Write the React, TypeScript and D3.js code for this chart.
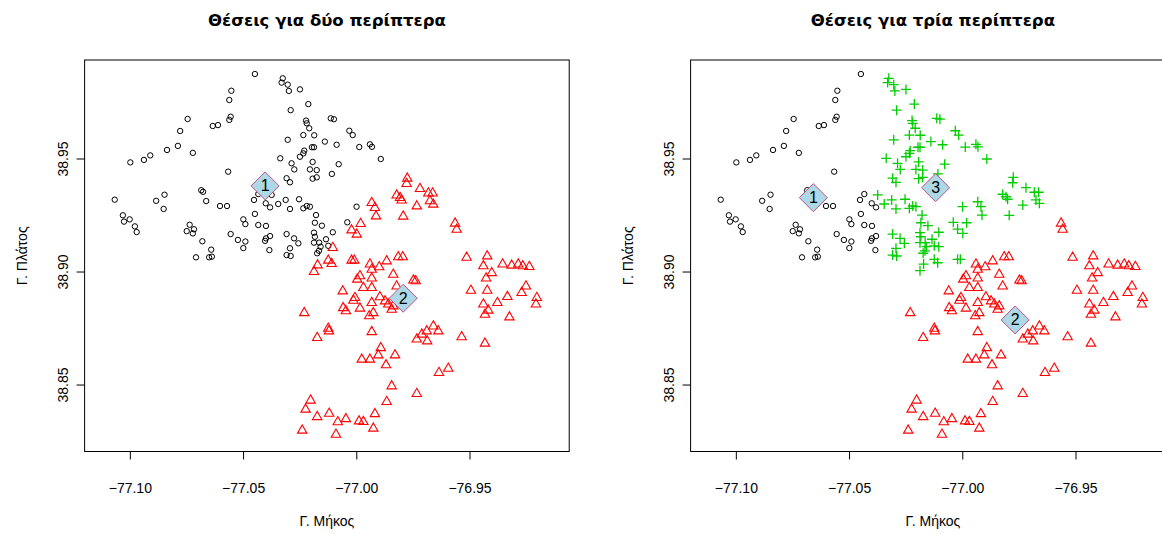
import React from "react";
import * as d3 from "d3";

// Kiosk stand locations (longitude, latitude), grouped by the cluster they fall in
// for the two-kiosk and three-kiosk k-means solutions.

// two-kiosk cluster 1, three-kiosk cluster 1
const westStands: [number, number][] = [
  [-77.0554, 38.9802], [-77.0563, 38.9761], [-77.0557, 38.9687], [-77.0563, 38.9673],
  [-77.0636, 38.9646], [-77.0613, 38.965], [-77.0747, 38.9677], [-77.078, 38.9624],
  [-77.079, 38.9558], [-77.0838, 38.954], [-77.0724, 38.9527], [-77.0912, 38.9516],
  [-77.094, 38.9496], [-77.1, 38.9485], [-77.0568, 38.9444], [-77.0687, 38.9362],
  [-77.0679, 38.9355], [-77.0665, 38.9314], [-77.0604, 38.9292], [-77.0573, 38.9292],
  [-77.1069, 38.932], [-77.0849, 38.9342], [-77.0886, 38.9315], [-77.0853, 38.9279],
  [-77.1033, 38.9251], [-77.1003, 38.9233], [-77.1028, 38.9223], [-77.098, 38.9202],
  [-77.0972, 38.9177], [-77.0738, 38.9209], [-77.0719, 38.9189], [-77.0751, 38.9181],
  [-77.0724, 38.9171], [-77.0682, 38.9136], [-77.0643, 38.9099], [-77.071, 38.9065],
  [-77.0652, 38.9065], [-77.064, 38.9068], [-77.0557, 38.9168], [-77.0525, 38.9142],
  [-77.0501, 38.9233], [-77.0492, 38.9212], [-77.0501, 38.9106], [-77.0492, 38.9135],
  [-77.045, 38.9876], [-77.0435, 38.9345], [-77.0454, 38.9319], [-77.0402, 38.9304],
  [-77.0383, 38.9286], [-77.045, 38.9257], [-77.0435, 38.9208], [-77.0401, 38.9204],
  [-77.0383, 38.9159], [-77.0401, 38.9149], [-77.0405, 38.9138], [-77.0386, 38.9097],
];

// two-kiosk cluster 1, three-kiosk cluster 3
const northStands: [number, number][] = [
  [-77.0327, 38.9857], [-77.0332, 38.9838], [-77.0305, 38.9829], [-77.03, 38.9801],
  [-77.0251, 38.9808], [-77.0214, 38.9743], [-77.0292, 38.9716], [-77.0224, 38.967],
  [-77.0221, 38.9658], [-77.021, 38.9636], [-77.0115, 38.968], [-77.0101, 38.9676],
  [-77.0033, 38.9625], [-77.0018, 38.9606], [-77.0236, 38.9606], [-77.0188, 38.9605],
  [-77.0305, 38.9585], [-77.0141, 38.9577], [-77.0089, 38.9563], [-77.0198, 38.9552],
  [-77.0189, 38.9552], [-76.9989, 38.9553], [-76.9942, 38.9565], [-76.9933, 38.9554],
  [-76.9894, 38.95], [-77.0232, 38.9537], [-77.0236, 38.9525], [-77.0251, 38.951],
  [-77.0338, 38.9503], [-77.0195, 38.9487], [-77.0288, 38.9481], [-77.0276, 38.9454],
  [-77.0207, 38.9454], [-77.0177, 38.9451], [-77.008, 38.9477], [-77.011, 38.9434],
  [-77.0195, 38.9413], [-77.0177, 38.9419], [-77.031, 38.9415], [-77.0295, 38.9397],
  [-77.0376, 38.9341], [-77.0347, 38.9301], [-77.0314, 38.9319], [-77.0295, 38.9279],
  [-77.0255, 38.9322], [-77.0236, 38.9282], [-77.0221, 38.9292], [-77.0207, 38.9289],
  [-77.0001, 38.9289], [-77.018, 38.9252], [-77.0185, 38.9218], [-77.0154, 38.9205],
  [-77.0042, 38.922], [-77.031, 38.9168], [-77.0277, 38.9149], [-77.0258, 38.9127],
  [-77.0189, 38.9174], [-77.0185, 38.9156], [-77.0189, 38.913], [-77.0166, 38.913],
  [-77.016, 38.9112], [-77.0136, 38.9145], [-77.0106, 38.9176], [-77.0126, 38.9116],
  [-77.0295, 38.9105], [-77.031, 38.9075], [-77.0292, 38.9071], [-77.0175, 38.9083],
  [-77.0167, 38.9094],
];

// two-kiosk cluster 2, three-kiosk cluster 3
const midStands: [number, number][] = [
  [-76.9934, 38.9311], [-76.992, 38.9289], [-76.9915, 38.9252], [-76.9983, 38.9218],
  [-77.0023, 38.919], [-77.0, 38.9171], [-77.0106, 38.9112], [-76.9777, 38.9419],
  [-76.978, 38.9395], [-76.9721, 38.9373], [-76.9684, 38.9353], [-76.9665, 38.9353],
  [-76.9677, 38.9319], [-76.9662, 38.9304], [-76.9824, 38.9344], [-76.9809, 38.9333],
  [-76.9802, 38.9322], [-76.9735, 38.9296], [-76.9795, 38.9251], [-77.0126, 38.9056],
  [-77.0111, 38.9041], [-77.0173, 38.9035], [-77.0189, 38.9006], [-77.0023, 38.9056],
  [-77.0011, 38.9056],
];

// two-kiosk cluster 2, three-kiosk cluster 2
const southStands: [number, number][] = [
  [-76.9566, 38.922], [-76.9559, 38.9193], [-76.9817, 38.9071], [-76.9797, 38.9071],
  [-76.9515, 38.9069], [-76.9424, 38.9075], [-76.9441, 38.9031], [-76.9404, 38.9001],
  [-76.9429, 38.8977], [-76.9356, 38.9039], [-76.9316, 38.9034], [-76.9287, 38.9039],
  [-76.9267, 38.9031], [-76.9238, 38.9028], [-76.9839, 38.8994], [-76.975, 38.8968],
  [-76.974, 38.8965], [-76.9824, 38.8942], [-76.9496, 38.8923], [-76.9424, 38.8923],
  [-76.9335, 38.8895], [-76.9379, 38.8869], [-76.9272, 38.8913], [-76.9253, 38.8942],
  [-76.9205, 38.8891], [-76.9209, 38.8862], [-76.9441, 38.8862], [-76.9419, 38.8835],
  [-76.9434, 38.8817], [-76.9326, 38.8805], [-76.9839, 38.8854], [-76.9846, 38.8839],
  [-76.9662, 38.8765], [-76.964, 38.8743], [-76.9691, 38.8743], [-76.9713, 38.8729],
  [-76.9735, 38.8707], [-76.9689, 38.8699], [-76.9537, 38.8717], [-76.9434, 38.8689],
  [-76.9831, 38.8637], [-76.9596, 38.8578], [-76.9637, 38.8559], [-76.9846, 38.85],
  [-76.9735, 38.8466],
  [-76.9942, 38.9039], [-76.9868, 38.9053], [-76.9901, 38.9027], [-76.9934, 38.9016],
  [-76.9986, 38.8987], [-76.9998, 38.8972], [-76.9934, 38.8977], [-76.9971, 38.8935],
  [-76.9934, 38.8935], [-77.0062, 38.892], [-77.0008, 38.8891], [-77.0015, 38.8879],
  [-76.9898, 38.8894], [-76.9934, 38.8869], [-76.9875, 38.8876], [-76.9861, 38.8862],
  [-77.006, 38.8846], [-77.0048, 38.8832], [-76.9986, 38.8844], [-76.9927, 38.8824],
  [-76.9945, 38.881], [-77.0232, 38.8824], [-77.0126, 38.8755], [-77.0123, 38.8743],
  [-77.0175, 38.8714], [-76.9934, 38.874], [-76.9894, 38.8669], [-76.9905, 38.8637],
  [-76.9978, 38.8618], [-76.9942, 38.8618], [-76.9871, 38.8593], [-76.9868, 38.8431],
  [-77.0204, 38.8437], [-77.0226, 38.8397], [-77.0175, 38.8364], [-77.0122, 38.8379],
  [-77.0084, 38.8341], [-77.0048, 38.8355], [-76.999, 38.8345], [-76.9971, 38.8342],
  [-76.992, 38.8377], [-76.9927, 38.8313], [-77.0241, 38.8304], [-77.0092, 38.8286],
];

// k-means centres (longitude, latitude)
const twoKioskCenters: [number, number][] = [
  [-77.0405, 38.9381],
  [-76.9795, 38.8884],
];
const threeKioskCenters: [number, number][] = [
  [-77.066, 38.9329],
  [-76.9769, 38.8788],
  [-77.012, 38.9373],
];

const lonTicks = [-77.1, -77.05, -77.0, -76.95];
const latTicks = [38.85, 38.9, 38.95];
const titles = ["Θέσεις για δύο περίπτερα", "Θέσεις για τρία περίπτερα"];
const xLabel = "Γ. Μήκος";
const yLabel = "Γ. Πλάτος";

type Marker = "circle" | "triangle" | "cross";

const MARK_COLORS: Record<Marker, string> = {
  circle: "#000000",
  triangle: "#ff0000",
  cross: "#00cd00",
};

const FONT = "'Liberation Sans', Arial, Helvetica, sans-serif";
const TITLE_FONT = "'DejaVu Sans', Verdana, sans-serif";

const BOX_W = 484.6;
const BOX_TOP = 60;
const BOX_BOTTOM = 451.5;
const X_DOMAIN: [number, number] = [-77.1202, -76.9062];
const Y_DOMAIN: [number, number] = [38.8206, 38.9938];

function Mark({ kind, cx, cy }: { kind: Marker; cx: number; cy: number }) {
  const color = MARK_COLORS[kind];
  if (kind === "circle") {
    return <circle cx={cx} cy={cy} r={2.7} fill="none" stroke={color} strokeWidth={1} />;
  }
  if (kind === "triangle") {
    const p = d3.path();
    p.moveTo(cx, cy - 4.4);
    p.lineTo(cx + 4.7, cy + 3.8);
    p.lineTo(cx - 4.7, cy + 3.8);
    p.closePath();
    return <path d={p.toString()} fill="none" stroke={color} strokeWidth={1.1} />;
  }
  return (
    <path
      d={`M${cx - 5},${cy}H${cx + 5}M${cx},${cy - 5}V${cy + 5}`}
      stroke={color}
      strokeWidth={1.3}
      fill="none"
    />
  );
}

function Panel({
  left,
  title,
  groups,
  centers,
}: {
  left: number;
  title: string;
  groups: { pts: [number, number][]; kind: Marker }[];
  centers: [number, number][];
}) {
  const x = d3.scaleLinear().domain(X_DOMAIN).range([left, left + BOX_W]);
  const y = d3.scaleLinear().domain(Y_DOMAIN).range([BOX_BOTTOM, BOX_TOP]);
  const midX = left + BOX_W / 2;
  const midY = (BOX_TOP + BOX_BOTTOM) / 2;
  const diamond = 14;

  return (
    <g>
      <text
        x={midX}
        y={26}
        textAnchor="middle"
        fontFamily={TITLE_FONT}
        fontWeight="bold"
        fontSize={16.5}
        fill="#000"
      >
        {title}
      </text>
      <rect
        x={left}
        y={BOX_TOP}
        width={BOX_W}
        height={BOX_BOTTOM - BOX_TOP}
        fill="none"
        stroke="#000"
        strokeWidth={1}
      />
      {lonTicks.map((t) => (
        <g key={`x${t}`}>
          <line x1={x(t)} x2={x(t)} y1={BOX_BOTTOM} y2={BOX_BOTTOM + 8} stroke="#000" />
          <text
            x={x(t)}
            y={493}
            textAnchor="middle"
            fontFamily={FONT}
            fontSize={14}
            fill="#000"
          >
            {d3.format(".2f")(t)}
          </text>
        </g>
      ))}
      {latTicks.map((t) => (
        <g key={`y${t}`}>
          <line x1={left - 8} x2={left} y1={y(t)} y2={y(t)} stroke="#000" />
          <text
            transform={`translate(${left - 17},${y(t)}) rotate(-90)`}
            textAnchor="middle"
            fontFamily={FONT}
            fontSize={14}
            fill="#000"
          >
            {d3.format(".2f")(t)}
          </text>
        </g>
      ))}
      <text
        x={midX}
        y={526}
        textAnchor="middle"
        fontFamily={FONT}
        fontSize={14}
        fill="#000"
      >
        {xLabel}
      </text>
      <text
        transform={`translate(${left - 58},${midY}) rotate(-90)`}
        textAnchor="middle"
        fontFamily={FONT}
        fontSize={14}
        fill="#000"
      >
        {yLabel}
      </text>
      {groups.map((g, gi) =>
        g.pts.map(([lon, lat], i) => (
          <Mark key={`${gi}-${i}`} kind={g.kind} cx={x(lon)} cy={y(lat)} />
        ))
      )}
      {centers.map(([lon, lat], i) => {
        const cx = x(lon);
        const cy = y(lat);
        return (
          <g key={`c${i}`}>
            <path
              d={`M${cx},${cy - diamond}L${cx + diamond},${cy}L${cx},${cy + diamond}L${cx - diamond},${cy}Z`}
              fill="#add8e6"
              stroke="#c0508a"
              strokeWidth={1}
            />
            <text
              x={cx}
              y={cy + 5.5}
              textAnchor="middle"
              fontFamily={FONT}
              fontSize={16}
              fill="#000"
            >
              {i + 1}
            </text>
          </g>
        );
      })}
    </g>
  );
}

export default function App() {
  return (
    <svg
      width={1162}
      height={534}
      style={{ position: "absolute", left: 0, top: 0, background: "#fff" }}
    >
      <rect width={1162} height={534} fill="#fff" />
      <Panel
        left={84.6}
        title={titles[0]}
        groups={[
          { pts: westStands, kind: "circle" },
          { pts: northStands, kind: "circle" },
          { pts: midStands, kind: "triangle" },
          { pts: southStands, kind: "triangle" },
        ]}
        centers={twoKioskCenters}
      />
      <Panel
        left={690.6}
        title={titles[1]}
        groups={[
          { pts: westStands, kind: "circle" },
          { pts: northStands, kind: "cross" },
          { pts: midStands, kind: "cross" },
          { pts: southStands, kind: "triangle" },
        ]}
        centers={threeKioskCenters}
      />
    </svg>
  );
}
